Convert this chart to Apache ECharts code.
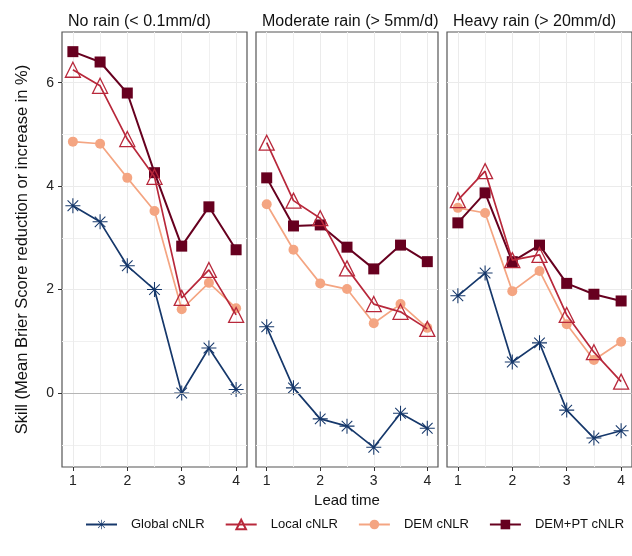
<!DOCTYPE html>
<html>
<head>
<meta charset="utf-8">
<script src="https://cdn.jsdelivr.net/npm/echarts@6/dist/echarts.min.js"></script>
<style>
  html, body { margin: 0; padding: 0; background: #fff; }
  #main { width: 632px; height: 556px; }
</style>
</head>
<body>
<div id="main"></div>
<script>
const leadTime = [1, 1.5, 2, 2.5, 3, 3.5, 4];
const panelTitles = ["No rain (< 0.1mm/d)", "Moderate rain (> 5mm/d)", "Heavy rain (> 20mm/d)"];
const seriesNames = ["Global cNLR", "Local cNLR", "DEM cNLR", "DEM+PT cNLR"];

// no rain
const noRainGlobal = [3.62, 3.31, 2.46, 2.0, 0.0, 0.87, 0.07];
const noRainLocal = [6.25, 5.94, 4.91, 4.18, 1.84, 2.38, 1.51];
const noRainDem = [4.86, 4.82, 4.16, 3.52, 1.62, 2.13, 1.64];
const noRainDemPt = [6.6, 6.4, 5.8, 4.26, 2.84, 3.6, 2.77];
// moderate rain
const modGlobal = [1.28, 0.1, -0.5, -0.64, -1.05, -0.39, -0.68];
const modLocal = [4.84, 3.72, 3.38, 2.41, 1.72, 1.57, 1.24];
const modDem = [3.65, 2.77, 2.12, 2.01, 1.35, 1.72, 1.26];
const modDemPt = [4.16, 3.23, 3.25, 2.82, 2.40, 2.86, 2.54];
// heavy rain
const heavyGlobal = [1.88, 2.32, 0.6, 0.97, -0.33, -0.87, -0.73];
const heavyLocal = [3.73, 4.29, 2.57, 2.67, 1.51, 0.79, 0.22];
const heavyDem = [3.58, 3.48, 1.97, 2.36, 1.33, 0.64, 0.99];
const heavyDemPt = [3.29, 3.87, 2.54, 2.86, 2.12, 1.91, 1.78];

const xMajor = [1, 2, 3, 4];
const xMinor = [1.5, 2.5, 3.5];
const yMajor = [0, 2, 4, 6];
const yMinor = [-1, 1, 3, 5];

const panels = [
  [noRainGlobal, noRainLocal, noRainDem, noRainDemPt],
  [modGlobal, modLocal, modDem, modDemPt],
  [heavyGlobal, heavyLocal, heavyDem, heavyDemPt]
];

const colors = ["#16386b", "#b8283b", "#f4a582", "#67001f"];
const font = "Liberation Sans, Arial, sans-serif";

// asterisk made of four thin bars
const asterisk = "path://M-0.7,-10L0.7,-10L0.7,10L-0.7,10Z M-10,-0.7L10,-0.7L10,0.7L-10,0.7Z " +
  "M-7.56,-6.57L-6.57,-7.56L7.56,6.57L6.57,7.56Z M6.57,-7.56L7.56,-6.57L-6.57,7.56L-7.56,6.57Z";

const gridPos = [
  { left: 62, width: 185 },
  { left: 256, width: 182 },
  { left: 447, width: 186 }
];

const grids = [], xAxes = [], yAxes = [], series = [], titles = [];

function toPairs(arr) {
  return arr.map((v, i) => [leadTime[i], v]);
}

gridPos.forEach((g, p) => {
  grids.push({
    left: g.left, width: g.width, top: 32, height: 435,
    show: true, borderColor: "#555", borderWidth: 1.2, backgroundColor: "#fff"
  });
  titles.push({
    text: panelTitles[p], left: g.left + 6, top: 14, padding: 0,
    textStyle: { fontFamily: font, fontSize: 16, fontWeight: "normal", color: "#111" }
  });
  // major x axis
  xAxes.push({
    type: "value", gridIndex: p, min: 0.8, max: 4.2,
    axisLine: { show: false, onZero: false },
    axisTick: { show: true, length: 4, customValues: xMajor, lineStyle: { color: "#333" } },
    axisLabel: { customValues: xMajor, color: "#222", fontFamily: font, fontSize: 14, margin: 7 },
    splitLine: { show: true, lineStyle: { color: "#ebebeb", width: 1 } },
    name: p === 1 ? "Lead time" : "", nameLocation: "middle", nameGap: 22,
    nameTextStyle: { fontFamily: font, fontSize: 15, color: "#111" }
  });
  // minor x axis
  xAxes.push({
    type: "value", gridIndex: p, min: 0.8, max: 4.2,
    axisLine: { show: false, onZero: false }, axisLabel: { show: false },
    axisTick: { show: false, customValues: xMinor },
    splitLine: { show: true, lineStyle: { color: "#f0f0f0", width: 1 } }
  });
  yAxes.push({
    type: "value", gridIndex: p, min: -1.43, max: 6.98,
    axisLine: { show: false, onZero: false },
    axisTick: { show: p === 0, length: 4, customValues: yMajor, lineStyle: { color: "#333" } },
    axisLabel: { show: p === 0, customValues: yMajor, color: "#222", fontFamily: font, fontSize: 14, margin: 8 },
    splitLine: { show: true, lineStyle: { color: "#ebebeb", width: 1 } },
    name: p === 0 ? "Skill (Mean Brier Score reduction or increase in %)" : "",
    nameLocation: "middle", nameRotate: 90, nameGap: 31,
    nameTextStyle: { fontFamily: font, fontSize: 16.5, color: "#111" }
  });
  yAxes.push({
    type: "value", gridIndex: p, min: -1.43, max: 6.98, position: "left",
    axisLine: { show: false, onZero: false }, axisLabel: { show: false },
    axisTick: { show: false, customValues: yMinor },
    splitLine: { show: true, lineStyle: { color: "#f0f0f0", width: 1 } }
  });

  panels[p].forEach((vals, s) => {
    const base = {
      name: seriesNames[s], type: "line",
      xAxisIndex: p * 2, yAxisIndex: p * 2,
      data: toPairs(vals), z: 3 + s,
      lineStyle: { color: colors[s], width: s === 3 ? 2 : 1.7 }
    };
    if (s === 0) {
      base.symbol = asterisk; base.symbolSize = 15;
      base.itemStyle = { color: colors[0] };
    } else if (s === 1) {
      base.symbol = "triangle"; base.symbolSize = 15;
      base.itemStyle = { color: "rgba(255,255,255,0)", borderColor: colors[1], borderWidth: 1.3 };
      base.z = 10;
    } else if (s === 2) {
      base.symbol = "circle"; base.symbolSize = 10;
      base.itemStyle = { color: colors[2] };
    } else {
      base.symbol = "rect"; base.symbolSize = 11;
      base.itemStyle = { color: colors[3] };
    }
    if (s === 0) {
      base.markLine = {
        silent: true, symbol: "none", label: { show: false },
        lineStyle: { color: "#b5b5b5", width: 1.2, type: "solid" },
        data: [{ yAxis: 0 }]
      };
    }
    series.push(base);
  });
});

const chart = echarts.init(document.getElementById("main"));
chart.setOption({
  animation: false,
  backgroundColor: "#fff",
  title: titles,
  grid: grids,
  xAxis: xAxes,
  yAxis: yAxes,
  legend: {
    data: seriesNames, bottom: 20, left: 80,
    itemWidth: 31, itemHeight: 12, itemGap: 20,
    textStyle: { fontFamily: font, fontSize: 13, color: "#111", padding: [0, 0, 0, 9] }
  },
  series: series
});
</script>
</body>
</html>
